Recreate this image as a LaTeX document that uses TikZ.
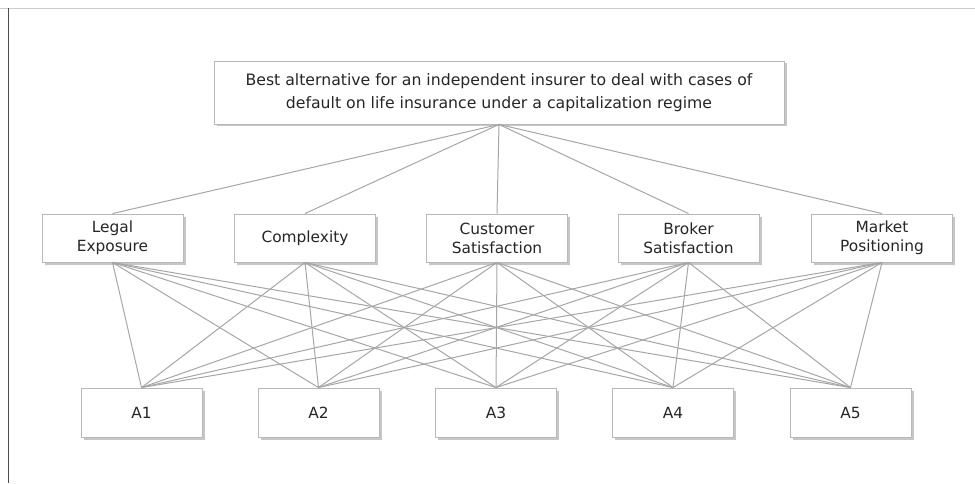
\documentclass[tikz,border=0pt]{standalone}
\usepackage{fontspec}
\setmainfont{DejaVu Sans}
\usetikzlibrary{positioning,shadows}

\begin{document}
\begin{tikzpicture}[x=1pt,y=1pt,
    box/.style={draw=black!28,fill=white,line width=0.9pt,inner sep=0pt,align=center,
        drop shadow={shadow xshift=2.5pt,shadow yshift=-2.5pt,opacity=0.45},
        font=\fontsize{15.4}{19}\selectfont,text=black!85},
    crit/.style={box,minimum width=141pt,minimum height=48pt},
    alt/.style={box,minimum width=121pt,minimum height=49pt},
    link/.style={draw=black!35,line width=1pt}]
    \useasboundingbox (0,0) rectangle (975,483);
    % frame
    \draw[black!20,line width=0.8pt] (0,475) -- (975,475);
    \draw[black!70,line width=1pt] (8,475) -- (8,0);
    % goal
    \node[box,minimum width=570pt,minimum height=63pt,font=\fontsize{15.7}{23.5}\selectfont] (goal) at (499,390.5)
        {Best alternative for an independent insurer to deal with cases of\\default on life insurance under a capitalization regime};
    % criteria
    \node[crit] (legal) at (112.5,245) {Legal\\Exposure};
    \node[crit] (complex) at (305,245) {Complexity};
    \node[crit] (customer) at (497,245) {Customer\\Satisfaction};
    \node[crit] (broker) at (688.5,245) {Broker\\Satisfaction};
    \node[crit] (market) at (882,245) {Market\\Positioning};
    % alternatives
    \node[alt] (a1) at (141.5,70.5) {A1};
    \node[alt] (a2) at (318.5,70.5) {A2};
    \node[alt] (a3) at (496,70.5) {A3};
    \node[alt] (a4) at (673,70.5) {A4};
    \node[alt] (a5) at (850.5,70.5) {A5};
    % connectors
    \foreach \c in {legal,complex,customer,broker,market}{
        \draw[link] (goal.south) -- (\c.north);
        \foreach \a in {a1,a2,a3,a4,a5}
            \draw[link] (\c.south) -- (\a.north);
    }
\end{tikzpicture}
\end{document}
